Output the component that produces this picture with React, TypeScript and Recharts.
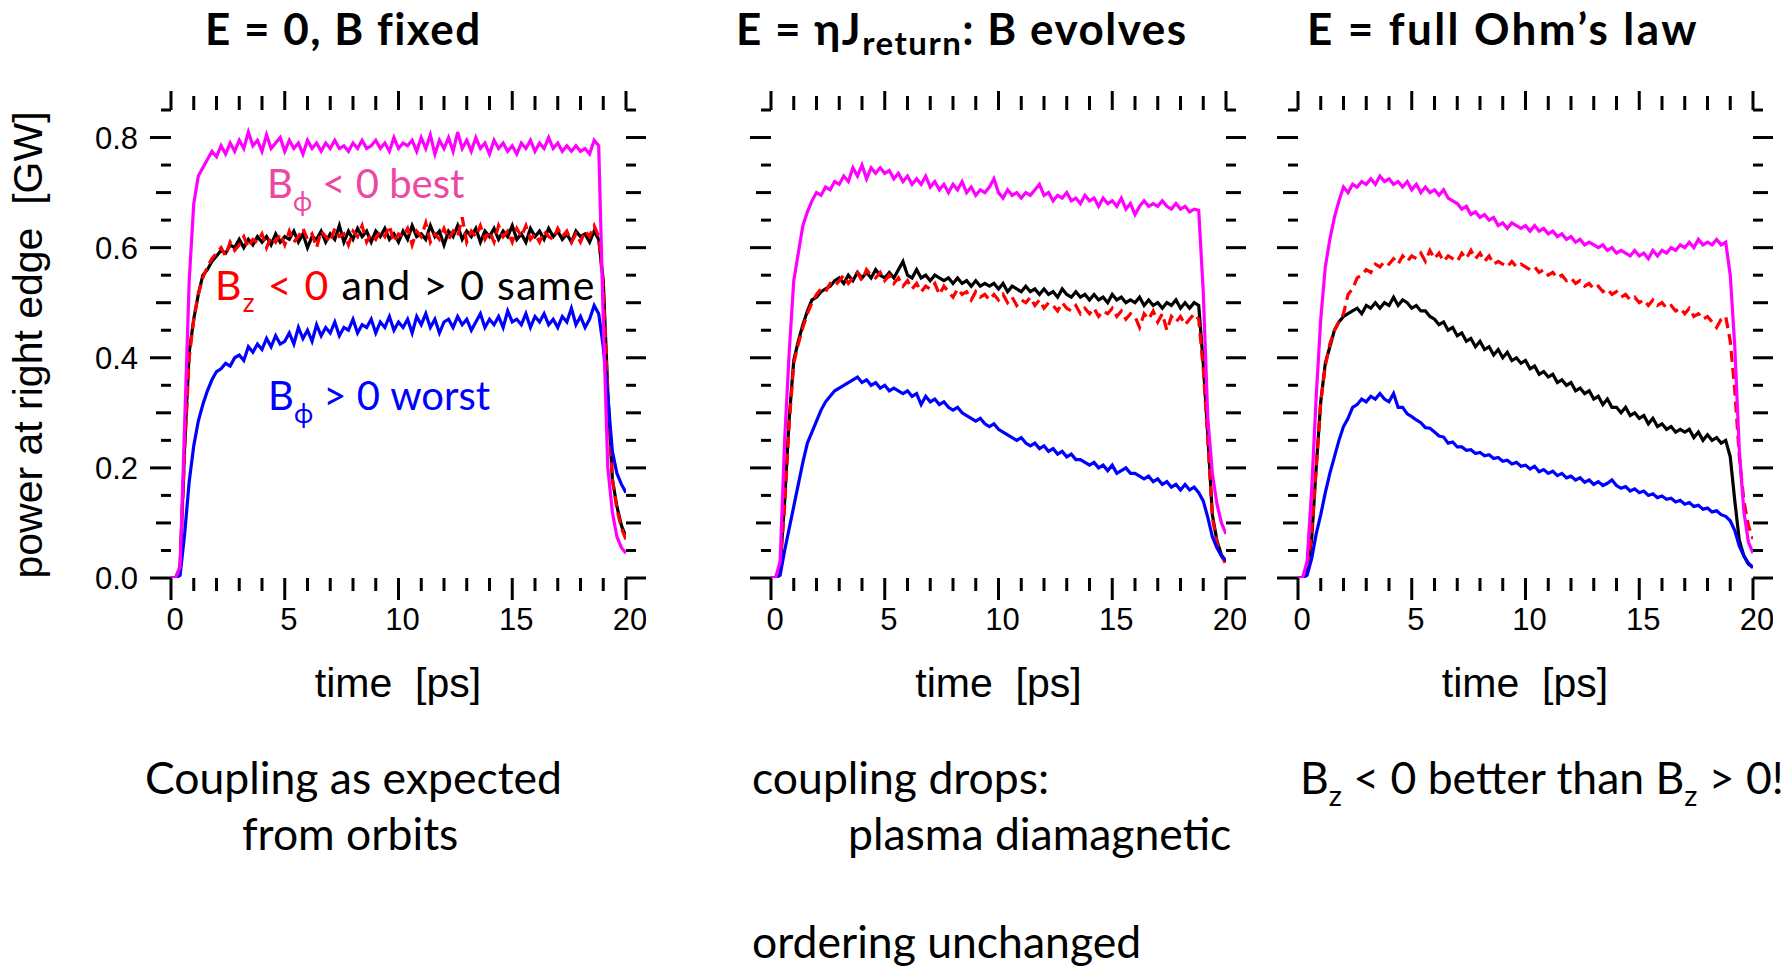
import { LineChart, Line, XAxis, YAxis } from 'recharts'

// time grid shared by every trace [ps]
const TIME = [
  0, 0.2, 0.4, 0.6, 0.8, 1, 1.2, 1.4, 1.6, 1.8,
  2, 2.2, 2.4, 2.6, 2.8, 3, 3.2, 3.4, 3.6, 3.8,
  4, 4.2, 4.4, 4.6, 4.8, 5, 5.2, 5.4, 5.6, 5.8,
  6, 6.2, 6.4, 6.6, 6.8, 7, 7.2, 7.4, 7.6, 7.8,
  8, 8.2, 8.4, 8.6, 8.8, 9, 9.2, 9.4, 9.6, 9.8,
  10, 10.2, 10.4, 10.6, 10.8, 11, 11.2, 11.4, 11.6, 11.8,
  12, 12.2, 12.4, 12.6, 12.8, 13, 13.2, 13.4, 13.6, 13.8,
  14, 14.2, 14.4, 14.6, 14.8, 15, 15.2, 15.4, 15.6, 15.8,
  16, 16.2, 16.4, 16.6, 16.8, 17, 17.2, 17.4, 17.6, 17.8,
  18, 18.2, 18.4, 18.6, 18.8, 19, 19.2, 19.4, 19.6, 19.8,
  20,
]

const X_TICKS = [0, 1, 2, 3, 4, 5, 6, 7, 8, 9, 10, 11, 12, 13, 14, 15, 16, 17, 18, 19, 20]
const Y_TICKS = [0, 0.05, 0.1, 0.15, 0.2, 0.25, 0.3, 0.35, 0.4, 0.45, 0.5, 0.55, 0.6, 0.65, 0.7, 0.75, 0.8, 0.85]

// E = 0, B fixed
const P1_M = [
  0, 0, 0.02, 0.28, 0.54, 0.68, 0.73, 0.745, 0.76, 0.775,
  0.765, 0.785, 0.77, 0.79, 0.775, 0.795, 0.78, 0.81, 0.785, 0.795,
  0.775, 0.805, 0.78, 0.79, 0.8, 0.775, 0.795, 0.78, 0.79, 0.77,
  0.795, 0.78, 0.79, 0.775, 0.79, 0.78, 0.795, 0.78, 0.785, 0.775,
  0.79, 0.78, 0.795, 0.78, 0.785, 0.795, 0.78, 0.79, 0.775, 0.8,
  0.78, 0.79, 0.785, 0.795, 0.775, 0.8, 0.78, 0.805, 0.77, 0.795,
  0.78, 0.8, 0.775, 0.81, 0.78, 0.795, 0.775, 0.8, 0.78, 0.79,
  0.77, 0.795, 0.78, 0.79, 0.775, 0.785, 0.77, 0.79, 0.78, 0.795,
  0.775, 0.79, 0.78, 0.8, 0.78, 0.79, 0.775, 0.785, 0.775, 0.785,
  0.775, 0.78, 0.77, 0.795, 0.785, 0.47, 0.2, 0.12, 0.075, 0.055,
  0.045,
]
const P1_K = [
  0, 0, 0.02, 0.24, 0.41, 0.47, 0.515, 0.55, 0.56, 0.575,
  0.585, 0.595, 0.59, 0.605, 0.6, 0.615, 0.6, 0.615, 0.605, 0.62,
  0.61, 0.62, 0.605, 0.625, 0.61, 0.62, 0.615, 0.63, 0.61, 0.625,
  0.6, 0.62, 0.615, 0.63, 0.61, 0.625, 0.615, 0.64, 0.61, 0.63,
  0.615, 0.635, 0.62, 0.63, 0.61, 0.63, 0.62, 0.635, 0.615, 0.625,
  0.61, 0.63, 0.615, 0.64, 0.62, 0.625, 0.615, 0.64, 0.62, 0.63,
  0.605, 0.63, 0.62, 0.64, 0.615, 0.63, 0.62, 0.635, 0.61, 0.63,
  0.62, 0.635, 0.615, 0.63, 0.62, 0.64, 0.615, 0.625, 0.61, 0.635,
  0.62, 0.63, 0.615, 0.635, 0.62, 0.63, 0.615, 0.625, 0.61, 0.63,
  0.62, 0.625, 0.61, 0.63, 0.615, 0.54, 0.34, 0.18, 0.13, 0.095,
  0.075,
]
const P1_R = [
  0, 0, 0.02, 0.23, 0.4, 0.47, 0.515, 0.545, 0.565, 0.58,
  0.59, 0.6, 0.585, 0.61, 0.595, 0.605, 0.62, 0.6, 0.615, 0.61,
  0.625, 0.6, 0.62, 0.61, 0.625, 0.605, 0.63, 0.61, 0.62, 0.635,
  0.615, 0.625, 0.6, 0.63, 0.62, 0.61, 0.635, 0.62, 0.625, 0.605,
  0.63, 0.62, 0.64, 0.61, 0.625, 0.615, 0.63, 0.62, 0.64, 0.61,
  0.625, 0.62, 0.635, 0.605, 0.63, 0.62, 0.645, 0.61, 0.625, 0.615,
  0.635, 0.615, 0.63, 0.62, 0.655, 0.61, 0.63, 0.62, 0.64, 0.615,
  0.63, 0.61, 0.64, 0.62, 0.63, 0.61, 0.635, 0.62, 0.64, 0.615,
  0.625, 0.61, 0.63, 0.62, 0.615, 0.635, 0.62, 0.63, 0.61, 0.625,
  0.61, 0.63, 0.62, 0.64, 0.62, 0.53, 0.33, 0.18, 0.125, 0.09,
  0.07,
]
const P1_B = [
  0, 0, 0.005, 0.08, 0.175, 0.24, 0.285, 0.315, 0.34, 0.36,
  0.375, 0.38, 0.39, 0.385, 0.4, 0.405, 0.395, 0.42, 0.41, 0.425,
  0.415, 0.435, 0.42, 0.44, 0.425, 0.43, 0.445, 0.425, 0.455, 0.435,
  0.45, 0.43, 0.46, 0.44, 0.455, 0.445, 0.465, 0.44, 0.455, 0.45,
  0.47, 0.445, 0.46, 0.455, 0.47, 0.445, 0.465, 0.455, 0.475, 0.45,
  0.465, 0.455, 0.47, 0.445, 0.475, 0.46, 0.48, 0.455, 0.47, 0.445,
  0.465, 0.47, 0.455, 0.475, 0.46, 0.47, 0.45, 0.465, 0.48, 0.455,
  0.47, 0.46, 0.475, 0.455, 0.485, 0.465, 0.47, 0.46, 0.48, 0.455,
  0.475, 0.465, 0.48, 0.46, 0.47, 0.455, 0.475, 0.465, 0.49, 0.46,
  0.475, 0.455, 0.47, 0.495, 0.48, 0.42, 0.33, 0.23, 0.19, 0.17,
  0.155,
]

// E = eta J_return, B evolves
const P2_M = [
  0, 0, 0.03, 0.25, 0.41, 0.54, 0.59, 0.64, 0.665, 0.685,
  0.7, 0.695, 0.71, 0.705, 0.72, 0.715, 0.73, 0.72, 0.745, 0.73,
  0.75, 0.725, 0.745, 0.735, 0.745, 0.735, 0.74, 0.725, 0.735, 0.72,
  0.73, 0.715, 0.725, 0.715, 0.73, 0.71, 0.72, 0.705, 0.715, 0.7,
  0.715, 0.705, 0.72, 0.7, 0.71, 0.695, 0.705, 0.7, 0.71, 0.725,
  0.7, 0.69, 0.705, 0.695, 0.7, 0.69, 0.7, 0.695, 0.705, 0.715,
  0.695, 0.7, 0.685, 0.695, 0.69, 0.7, 0.685, 0.69, 0.68, 0.695,
  0.685, 0.69, 0.675, 0.69, 0.68, 0.685, 0.675, 0.69, 0.67, 0.68,
  0.66, 0.675, 0.685, 0.675, 0.68, 0.675, 0.685, 0.675, 0.67, 0.68,
  0.67, 0.675, 0.665, 0.67, 0.668, 0.52, 0.29, 0.19, 0.135, 0.1,
  0.08,
]
const P2_K = [
  0, 0, 0.02, 0.14, 0.29, 0.395, 0.43, 0.46, 0.485, 0.505,
  0.51, 0.52, 0.525, 0.53, 0.54, 0.545, 0.535, 0.55, 0.54, 0.555,
  0.545, 0.555, 0.545, 0.56, 0.55, 0.545, 0.555, 0.545, 0.56, 0.575,
  0.55, 0.545, 0.56, 0.545, 0.55, 0.54, 0.55, 0.545, 0.54, 0.545,
  0.535, 0.545, 0.535, 0.54, 0.53, 0.54, 0.53, 0.535, 0.53, 0.535,
  0.525, 0.535, 0.52, 0.53, 0.525, 0.52, 0.53, 0.52, 0.525, 0.515,
  0.525, 0.515, 0.52, 0.51, 0.525, 0.515, 0.51, 0.52, 0.51, 0.515,
  0.505, 0.515, 0.505, 0.51, 0.5, 0.515, 0.505, 0.51, 0.5, 0.505,
  0.5, 0.51, 0.495, 0.505, 0.495, 0.5, 0.49, 0.5, 0.495, 0.505,
  0.49, 0.5, 0.49, 0.5, 0.495, 0.39, 0.26, 0.115, 0.068, 0.042,
  0.029,
]
const P2_R = [
  0, 0, 0.02, 0.13, 0.28, 0.39, 0.425, 0.455, 0.48, 0.5,
  0.515, 0.525, 0.52, 0.535, 0.53, 0.54, 0.55, 0.535, 0.545, 0.555,
  0.54, 0.56, 0.55, 0.545, 0.555, 0.54, 0.55, 0.535, 0.545, 0.53,
  0.54, 0.525, 0.535, 0.52, 0.53, 0.525, 0.535, 0.515, 0.53, 0.52,
  0.51, 0.525, 0.515, 0.52, 0.505, 0.52, 0.51, 0.515, 0.505, 0.515,
  0.505, 0.515, 0.5, 0.51, 0.495, 0.505, 0.5, 0.51, 0.495, 0.505,
  0.49, 0.5, 0.495, 0.485, 0.5, 0.49, 0.485, 0.495, 0.48, 0.49,
  0.48, 0.49, 0.475, 0.485, 0.48, 0.49, 0.475, 0.485, 0.47, 0.48,
  0.475, 0.455, 0.48, 0.47, 0.485, 0.465, 0.48, 0.45, 0.475, 0.465,
  0.475, 0.46, 0.47, 0.48, 0.47, 0.38, 0.25, 0.11, 0.065, 0.04,
  0.025,
]
const P2_B = [
  0, 0, 0.005, 0.05, 0.09, 0.13, 0.17, 0.21, 0.245, 0.265,
  0.285, 0.305, 0.32, 0.33, 0.34, 0.345, 0.35, 0.355, 0.36, 0.365,
  0.355, 0.36, 0.35, 0.355, 0.345, 0.35, 0.34, 0.345, 0.34, 0.335,
  0.34, 0.33, 0.335, 0.315, 0.33, 0.32, 0.325, 0.315, 0.32, 0.31,
  0.305, 0.31, 0.3, 0.295, 0.29, 0.285, 0.29, 0.28, 0.275, 0.28,
  0.27, 0.265, 0.26, 0.255, 0.25, 0.255, 0.245, 0.24, 0.245, 0.235,
  0.24, 0.23, 0.235, 0.225, 0.23, 0.22, 0.225, 0.215, 0.215, 0.21,
  0.205, 0.21, 0.2, 0.205, 0.195, 0.205, 0.19, 0.195, 0.2, 0.19,
  0.19, 0.185, 0.18, 0.185, 0.175, 0.18, 0.17, 0.175, 0.165, 0.17,
  0.16, 0.17, 0.16, 0.165, 0.155, 0.14, 0.11, 0.075, 0.055, 0.04,
  0.032,
]

// E = full Ohm's law
const P3_M = [
  0, 0, 0.03, 0.16, 0.33, 0.47, 0.565, 0.615, 0.655, 0.685,
  0.71, 0.7, 0.715, 0.71, 0.72, 0.715, 0.725, 0.715, 0.73, 0.72,
  0.725, 0.715, 0.72, 0.71, 0.72, 0.705, 0.715, 0.7, 0.71, 0.7,
  0.705, 0.695, 0.705, 0.69, 0.685, 0.68, 0.67, 0.675, 0.66, 0.665,
  0.655, 0.66, 0.65, 0.655, 0.64, 0.645, 0.635, 0.645, 0.64, 0.635,
  0.64, 0.63, 0.64, 0.63, 0.635, 0.625, 0.63, 0.62, 0.625, 0.615,
  0.62, 0.61, 0.615, 0.605, 0.61, 0.605, 0.6, 0.605, 0.595, 0.6,
  0.59, 0.595, 0.59, 0.585, 0.595, 0.585, 0.59, 0.58, 0.595, 0.585,
  0.595, 0.59, 0.6, 0.595, 0.605, 0.6, 0.61, 0.6, 0.615, 0.605,
  0.61, 0.605, 0.615, 0.605, 0.61, 0.55, 0.42, 0.23, 0.12, 0.065,
  0.045,
]
const P3_K = [
  0, 0, 0.01, 0.07, 0.2, 0.32, 0.39, 0.42, 0.45, 0.465,
  0.475, 0.48, 0.485, 0.49, 0.48, 0.495, 0.49, 0.5, 0.49, 0.5,
  0.495, 0.51, 0.495, 0.505, 0.5, 0.49, 0.495, 0.485, 0.485, 0.475,
  0.47, 0.46, 0.465, 0.45, 0.455, 0.44, 0.445, 0.43, 0.435, 0.42,
  0.43, 0.415, 0.42, 0.405, 0.415, 0.4, 0.41, 0.395, 0.4, 0.39,
  0.395, 0.38, 0.385, 0.37, 0.375, 0.365, 0.37, 0.355, 0.36, 0.35,
  0.355, 0.34, 0.345, 0.335, 0.34, 0.325, 0.33, 0.315, 0.325, 0.31,
  0.31, 0.3, 0.31, 0.295, 0.3, 0.29, 0.295, 0.28, 0.29, 0.275,
  0.28, 0.27, 0.275, 0.265, 0.27, 0.265, 0.27, 0.255, 0.265, 0.25,
  0.26, 0.25, 0.255, 0.245, 0.25, 0.22, 0.14, 0.068, 0.04, 0.025,
  0.019,
]
const P3_R = [
  0, 0, 0.01, 0.08, 0.2, 0.32, 0.385, 0.425, 0.45, 0.465,
  0.48, 0.515, 0.525, 0.545, 0.55, 0.56, 0.555, 0.57, 0.565, 0.575,
  0.57, 0.58, 0.57, 0.585, 0.575, 0.585, 0.58, 0.59, 0.575, 0.595,
  0.58, 0.59, 0.575, 0.585, 0.58, 0.575, 0.59, 0.58, 0.595, 0.58,
  0.59, 0.575, 0.585, 0.57, 0.575, 0.57, 0.565, 0.575, 0.565, 0.57,
  0.565, 0.56, 0.565, 0.555, 0.56, 0.55, 0.555, 0.545, 0.55, 0.54,
  0.545, 0.535, 0.54, 0.53, 0.535, 0.525, 0.53, 0.52, 0.525, 0.515,
  0.52, 0.51, 0.515, 0.505, 0.51, 0.5, 0.505, 0.495, 0.505, 0.495,
  0.5, 0.49, 0.495, 0.485, 0.49, 0.48, 0.49, 0.475, 0.48, 0.47,
  0.475, 0.465, 0.455, 0.47, 0.475, 0.43, 0.34, 0.22, 0.14, 0.095,
  0.071,
]
const P3_B = [
  0, 0, 0.005, 0.035, 0.08, 0.115, 0.155, 0.19, 0.22, 0.25,
  0.275, 0.29, 0.31, 0.315, 0.325, 0.32, 0.33, 0.325, 0.335, 0.325,
  0.32, 0.335, 0.31, 0.31, 0.298, 0.293, 0.287, 0.282, 0.273, 0.272,
  0.265, 0.258, 0.256, 0.245, 0.247, 0.238, 0.238, 0.232, 0.233, 0.226,
  0.228, 0.222, 0.224, 0.217, 0.219, 0.212, 0.214, 0.207, 0.21, 0.203,
  0.205, 0.198, 0.203, 0.193, 0.197, 0.19, 0.194, 0.186, 0.19, 0.182,
  0.185, 0.178, 0.182, 0.174, 0.178, 0.17, 0.175, 0.168, 0.172, 0.178,
  0.168, 0.163, 0.166, 0.158, 0.162, 0.155, 0.158, 0.15, 0.153, 0.146,
  0.149, 0.143, 0.145, 0.138, 0.141, 0.134, 0.137, 0.13, 0.132, 0.125,
  0.127, 0.12, 0.122, 0.115, 0.112, 0.104, 0.086, 0.058, 0.04, 0.027,
  0.019,
]

const MAGENTA = '#ff00ff'
const RED = '#ff0000'
const BLUE = '#0000ff'
const PINK = '#ec47a1'

const SANS = '"Liberation Sans", Arial, sans-serif'
const CAL = 'Lato, "DejaVu Sans", sans-serif'

// plot box geometry (page pixels)
const PLOT_W = 455
const PLOT_H = 468
const PLOT_TOP = 110.2
const TOP_H = 30
const BOTTOM_H = 70
const RIGHT_W = 20
const CHART_H = TOP_H + PLOT_H + BOTTOM_H
const LINE_W = 3.2

const near = (v: number, step: number) => Math.abs(v / step - Math.round(v / step)) < 1e-6

function yLen(v: number, major: number) {
  if (near(v, 0.2)) return major
  if (near(v, 0.1)) return 15
  return 10
}

const leftTick = (withLabels: boolean) => (props: any) => {
  const { x, y, payload } = props
  const v = payload.value as number
  return (
    <g>
      <line x1={x - yLen(v, 21)} x2={x} y1={y} y2={y} stroke="#000" strokeWidth={3} />
      {withLabels && near(v, 0.2) && (
        <text x={x - 33} y={y + 11} textAnchor="end" fontFamily={SANS} fontSize={31} fill="#000">
          {v.toFixed(1)}
        </text>
      )}
    </g>
  )
}

const rightTick = (props: any) => {
  const { x, y, payload } = props
  const v = payload.value as number
  return <line x1={x} x2={x + yLen(v, 20)} y1={y} y2={y} stroke="#000" strokeWidth={3} />
}

const bottomTick = (props: any) => {
  const { x, y, payload } = props
  const v = payload.value as number
  const major = near(v, 5)
  return (
    <g>
      <line x1={x} x2={x} y1={y} y2={y + (major ? 22 : 13)} stroke="#000" strokeWidth={3} />
      {major && (
        <text x={x + 4} y={y + 52} textAnchor="middle" fontFamily={SANS} fontSize={31} fill="#000">
          {v}
        </text>
      )}
    </g>
  )
}

const topTick = (props: any) => {
  const { x, y, payload } = props
  const v = payload.value as number
  return <line x1={x} x2={x} y1={y - (near(v, 5) ? 19 : 14)} y2={y} stroke="#000" strokeWidth={3} />
}

interface PanelProps {
  x0: number
  leftW: number
  yLabels: boolean
  m: number[]
  k: number[]
  r: number[]
  b: number[]
}

function Panel({ x0, leftW, yLabels, m, k, r, b }: PanelProps) {
  const width = leftW + PLOT_W + RIGHT_W
  const data = TIME.map((t, i) => ({ t, m: m[i], k: k[i], r: r[i], b: b[i] }))
  return (
    <div
      style={{
        position: 'absolute',
        left: x0 - leftW,
        top: PLOT_TOP - TOP_H,
        width,
        height: CHART_H,
        overflow: 'hidden',
      }}
    >
      <LineChart width={width} height={CHART_H} data={data} margin={{ top: 0, right: 0, bottom: 0, left: 0 }}>
        <XAxis
          xAxisId="b"
          dataKey="t"
          type="number"
          domain={[0, 20]}
          allowDataOverflow
          ticks={X_TICKS}
          interval={0}
          height={BOTTOM_H}
          axisLine={false}
          tickLine={false}
          tickSize={0}
          tickMargin={0}
          tick={bottomTick}
        />
        <XAxis
          xAxisId="t"
          orientation="top"
          dataKey="t"
          type="number"
          domain={[0, 20]}
          allowDataOverflow
          ticks={X_TICKS}
          interval={0}
          height={TOP_H}
          axisLine={false}
          tickLine={false}
          tickSize={0}
          tickMargin={0}
          tick={topTick}
        />
        <YAxis
          yAxisId="l"
          type="number"
          domain={[0, 0.85]}
          allowDataOverflow
          ticks={Y_TICKS}
          interval={0}
          width={leftW}
          axisLine={false}
          tickLine={false}
          tickSize={0}
          tickMargin={0}
          tick={leftTick(yLabels)}
        />
        <YAxis
          yAxisId="r"
          orientation="right"
          type="number"
          domain={[0, 0.85]}
          allowDataOverflow
          ticks={Y_TICKS}
          interval={0}
          width={RIGHT_W}
          axisLine={false}
          tickLine={false}
          tickSize={0}
          tickMargin={0}
          tick={rightTick}
        />
        <Line xAxisId="b" yAxisId="l" type="linear" dataKey="k" stroke="#000" strokeWidth={LINE_W} dot={false} activeDot={false} isAnimationActive={false} />
        <Line xAxisId="b" yAxisId="l" type="linear" dataKey="r" stroke={RED} strokeWidth={LINE_W} strokeDasharray="11 6" dot={false} activeDot={false} isAnimationActive={false} />
        <Line xAxisId="b" yAxisId="l" type="linear" dataKey="b" stroke={BLUE} strokeWidth={LINE_W} dot={false} activeDot={false} isAnimationActive={false} />
        <Line xAxisId="b" yAxisId="l" type="linear" dataKey="m" stroke={MAGENTA} strokeWidth={LINE_W} dot={false} activeDot={false} isAnimationActive={false} />
      </LineChart>
    </div>
  )
}

export default function App() {
  return (
    <div style={{ position: 'absolute', left: 0, top: 0, width: 1789, height: 971, background: '#fff' }}>
      <Panel x0={170.5} leftW={90} yLabels m={P1_M} k={P1_K} r={P1_R} b={P1_B} />
      <Panel x0={771} leftW={40} yLabels={false} m={P2_M} k={P2_K} r={P2_R} b={P2_B} />
      <Panel x0={1297.5} leftW={40} yLabels={false} m={P3_M} k={P3_K} r={P3_R} b={P3_B} />

      <svg width={1789} height={971} style={{ position: 'absolute', left: 0, top: 0, pointerEvents: 'none' }}>
        {/* panel titles */}
        <g fontFamily={CAL} fontWeight={700} fontSize={44} fill="#000" letterSpacing={1.5}>
          <text x={205} y={45}>E = 0, B fixed</text>
          <text x={736} y={45}>
            E = ηJ<tspan fontSize={33} dy={10}>return</tspan>
            <tspan dy={-10}>: B evolves</tspan>
          </text>
          <text x={1307} y={45} letterSpacing={2.4}>E = full Ohm’s law</text>
        </g>

        {/* axis titles */}
        <g fontFamily={SANS} fontSize={41} fill="#000">
          <text xmlSpace="preserve" style={{ whiteSpace: 'pre' }} transform="translate(42,345) rotate(-90)" textAnchor="middle">
            power at right edge  [GW]
          </text>
          <text xmlSpace="preserve" style={{ whiteSpace: 'pre' }} x={398} y={697} textAnchor="middle">time  [ps]</text>
          <text xmlSpace="preserve" style={{ whiteSpace: 'pre' }} x={998.5} y={697} textAnchor="middle">time  [ps]</text>
          <text xmlSpace="preserve" style={{ whiteSpace: 'pre' }} x={1525} y={697} textAnchor="middle">time  [ps]</text>
        </g>

        {/* curve labels in the first panel */}
        <g fontFamily={CAL} fontSize={40}>
          <text x={267} y={198} fill={PINK}>
            B<tspan fontSize={26} dy={13}>ϕ</tspan>
            <tspan dy={-13}>{' < 0 best'}</tspan>
          </text>
          <text x={215} y={300} fill={RED} fontSize={41} letterSpacing={1.3}>
            B<tspan fontSize={26} dy={12}>z</tspan>
            <tspan dy={-12}>{' < 0'}</tspan>
            <tspan fill="#000">{' and > 0 same'}</tspan>
          </text>
          <text x={268} y={410} fill={BLUE}>
            B<tspan fontSize={26} dy={13}>ϕ</tspan>
            <tspan dy={-13}>{' > 0 worst'}</tspan>
          </text>
        </g>

        {/* notes under the panels */}
        <g fontFamily={CAL} fontSize={44.5} fill="#000">
          <text x={145} y={794}>Coupling as expected</text>
          <text x={242} y={850}>from orbits</text>
          <text x={752} y={794}>coupling drops:</text>
          <text x={848} y={850}>plasma diamagnetic</text>
          <text x={752} y={958}>ordering unchanged</text>
          <text x={1300} y={794}>
            B<tspan fontSize={29} dy={12}>z</tspan>
            <tspan dy={-12}>{' < 0 better than B'}</tspan>
            <tspan fontSize={29} dy={12}>z</tspan>
            <tspan dy={-12}>{' > 0!'}</tspan>
          </text>
        </g>
      </svg>
    </div>
  )
}
